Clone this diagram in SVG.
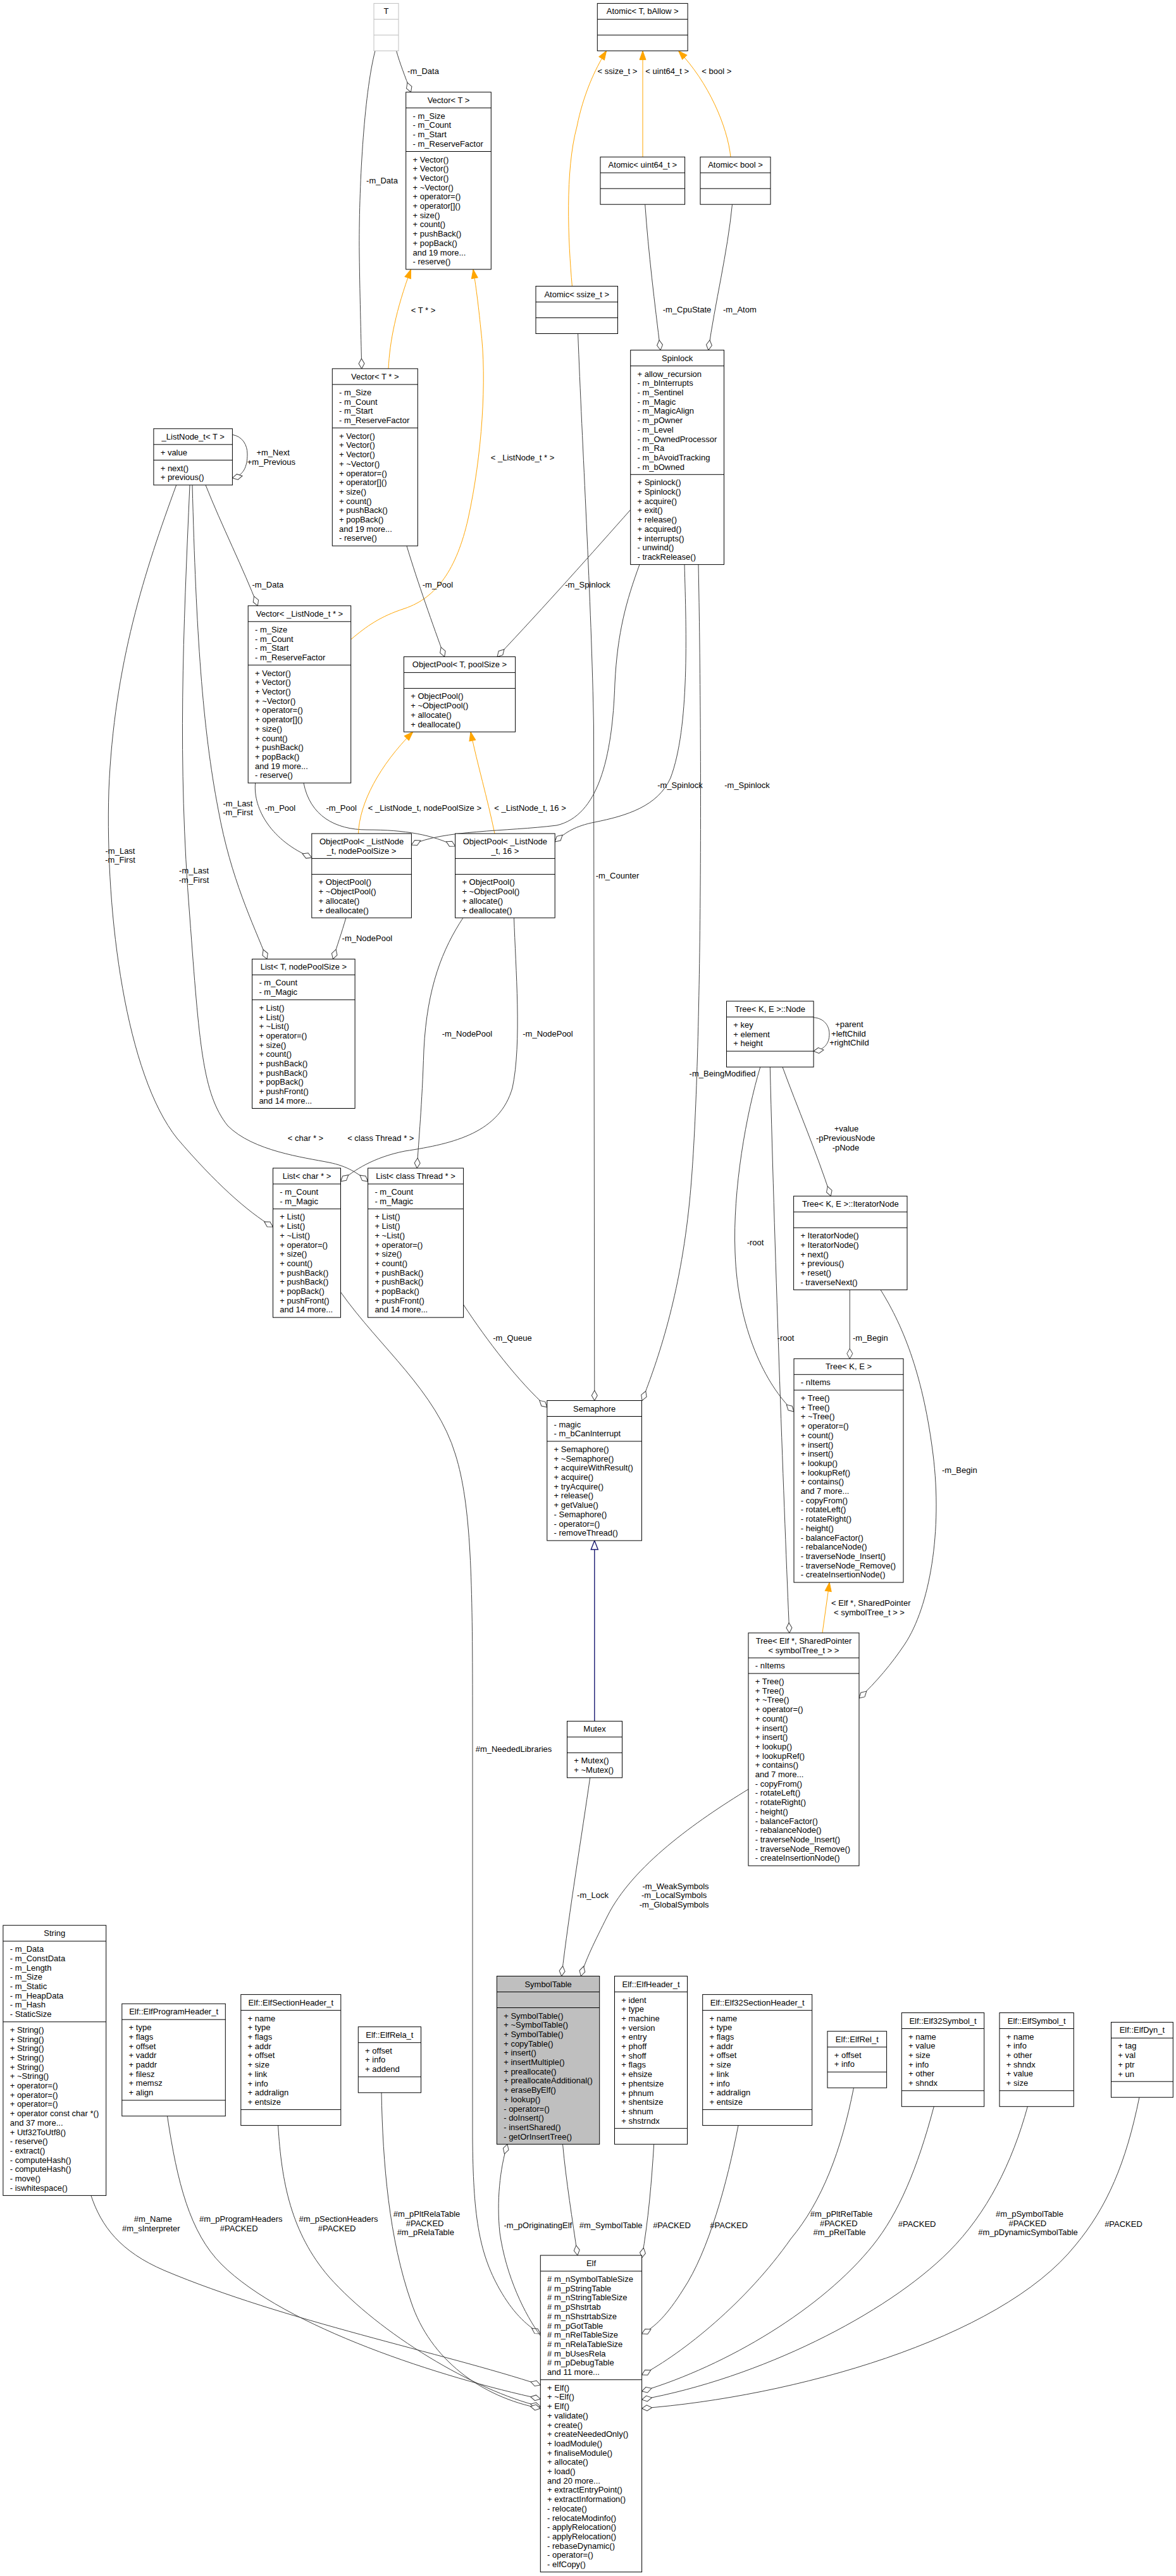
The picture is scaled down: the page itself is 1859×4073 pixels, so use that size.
<svg xmlns="http://www.w3.org/2000/svg" width="1859" height="4073" viewBox="0 0 1859 4073">
<style>
.b{fill:#fff;stroke:#000;stroke-width:1}
.g{fill:#bfbfbf;stroke:#000;stroke-width:1}
.u{fill:#fff;stroke:#bfbfbf;stroke-width:1}
.s{fill:none;stroke:#000;stroke-width:1}
.su{fill:none;stroke:#bfbfbf;stroke-width:1}
text{font-family:"Liberation Sans",Arial,Helvetica,sans-serif;font-size:13px;fill:#000}
.c{text-anchor:middle}
.e{fill:none;stroke:#404040;stroke-width:1;marker-end:url(#dia)}
.o{fill:none;stroke:#ffa500;stroke-width:1;marker-end:url(#oa)}
.m{fill:none;stroke:#191970;stroke-width:1.4;marker-end:url(#ba)}
</style>
<defs>
<marker id="dia" viewBox="-17 -6 18 12" refX="0" refY="0" markerWidth="18" markerHeight="12" orient="auto" markerUnits="userSpaceOnUse"><path d="M0,0 L-8,-4.5 L-16,0 L-8,4.5 Z" fill="#fff" stroke="#404040" stroke-width="1"/></marker>
<marker id="oa" viewBox="-15 -6 16 12" refX="0" refY="0" markerWidth="16" markerHeight="12" orient="auto" markerUnits="userSpaceOnUse"><path d="M0,0 L-14,-5 L-14,5 Z" fill="#ffa500" stroke="#ffa500" stroke-width="1"/></marker>
<marker id="ba" viewBox="-16 -7 17 14" refX="0" refY="0" markerWidth="17" markerHeight="14" orient="auto" markerUnits="userSpaceOnUse"><path d="M0,0 L-14,-5.5 L-14,5.5 Z" fill="#fff" stroke="#191970" stroke-width="1.4"/></marker>
</defs>
<rect x="0" y="0" width="1859" height="4073" fill="#fff"/>

<g id="edges">
<path class="e" d="M626.6,80.4 C632,100 640,120 649.5,145.7"/>
<path class="e" d="M593,80.4 C575,150 567,300 568,400 C569,480 571,540 571.7,582.9"/>
<path class="o" d="M614,582.9 C616,540 626,490 649.5,426"/>
<path class="o" d="M554.7,1011 C580,990 600,975 640,962 C690,945 722,900 740,820 C762,720 770,600 760,520 C756,480 752,450 748,426"/>
<path class="e" d="M325,766.9 C350,830 385,900 407.3,957.8"/>
<path class="e" d="M642.9,863.1 C660,920 685,990 702.6,1038.4"/>
<path class="e" d="M996.7,806 C940,870 860,960 786,1038.4"/>
<path class="e" d="M403.6,1238 C400,1280 430,1330 492.8,1356"/>
<path class="e" d="M480,1238 C490,1290 530,1312 580,1312 C640,1312 685,1320 719.6,1338"/>
<path class="o" d="M566.5,1318 C568,1270 600,1210 652.7,1157.2"/>
<path class="o" d="M782,1318 C770,1260 755,1210 744,1157.2"/>
<path class="e" d="M1011,892.6 C990,950 976,1000 972,1080 C968,1200 945,1290 880,1305 C800,1315 700,1312 650.4,1336"/>
<path class="e" d="M1082,892.6 C1085,1000 1090,1150 1060,1230 C1040,1275 990,1290 940,1300 C910,1306 895,1315 877.2,1331"/>
<path class="e" d="M913.6,527.5 C920,700 935,950 938.5,1150 L939.8,2214.5"/>
<path class="e" d="M1104,892.6 C1110,1200 1110,1700 1090,1900 C1075,2050 1040,2150 1015,2214.5"/>
<path class="e" d="M1019.7,323.2 C1025,400 1035,480 1044,553.6"/>
<path class="e" d="M1157.5,323.2 C1150,400 1130,480 1119.8,553.6"/>
<path class="o" d="M1016,248.2 L1016,80.4"/>
<path class="o" d="M1155,248.2 C1150,200 1120,130 1072.5,80.4"/>
<path class="o" d="M904.4,452.5 C898,380 893,270 912,200 C922,150 940,110 958.6,80.4"/>
<path class="e" d="M304,766.9 C310,1000 320,1150 345,1280 C365,1390 400,1460 422,1516.4"/>
<path class="e" d="M300,766.9 C290,1000 280,1200 300,1450 C315,1650 320,1730 360,1780 C400,1820 480,1830 520,1838 C550,1844 565,1855 581.6,1868"/>
<path class="e" d="M278.7,766.9 C230,900 180,1050 172,1250 C166,1450 200,1700 280,1800 C340,1870 390,1915 431.5,1940"/>
<path class="e" d="M546.9,1451.2 C540,1475 533,1495 526.3,1516.4"/>
<path class="e" d="M732,1451.2 C700,1500 675,1560 670,1660 C667,1750 662,1800 659.2,1847"/>
<path class="e" d="M812.5,1451.2 C815,1530 825,1650 810,1720 C790,1790 720,1808 640,1820 C590,1830 560,1850 538.5,1868"/>
<path class="e" d="M538.5,2043 C600,2130 690,2200 720,2300 C745,2380 747,2500 747,2700 L747,3380 C748,3500 756,3560 790,3620 C810,3655 830,3675 854.3,3690"/>
<path class="e" d="M732.7,2063 C770,2120 820,2185 864.8,2225"/>
<path class="e" d="M1201.8,1687.1 C1180,1760 1158,1880 1162,1980 C1166,2100 1210,2190 1255,2232"/>
<path class="e" d="M1217.3,1687.1 C1225,2000 1240,2400 1247.8,2581.9"/>
<path class="e" d="M1237,1687.1 C1260,1750 1290,1820 1313.3,1891.2"/>
<path class="e" d="M1286.1,1608.8 C1303,1610 1311,1622 1311,1635 C1311,1650 1303,1660 1286.1,1662"/>
<path class="e" d="M367.4,687.3 C383,690 391,703 391,718 C391,738 385,752 367.4,755.7"/>
<path class="e" d="M1343.3,2039.4 L1343.3,2148.3"/>
<path class="e" d="M1392,2039.4 C1430,2100 1460,2180 1475,2300 C1490,2420 1470,2540 1430,2600 C1410,2630 1385,2660 1358,2685"/>
<path class="o" d="M1300,2581.9 L1311.2,2502"/>
<path class="m" d="M939.8,2721.4 L939.8,2436"/>
<path class="e" d="M932.7,2810.8 C920,2900 900,3020 887.7,3124.5"/>
<path class="e" d="M1183,2829 C1100,2880 1000,2950 960,3030 C940,3070 925,3100 918.3,3124.5"/>
<path class="e" d="M854.3,3693 C830,3660 800,3600 790,3530 C785,3480 790,3430 802,3390.3"/>
<path class="e" d="M889.5,3390.3 C895,3450 905,3510 912.9,3566"/>
<path class="e" d="M1033.7,3390.3 C1030,3450 1025,3510 1014.6,3570"/>
<path class="e" d="M1167,3360.6 C1150,3450 1120,3560 1080,3620 C1055,3660 1035,3680 1014.6,3690"/>
<path class="e" d="M143.9,3471.4 C160,3520 190,3560 260,3590 C450,3670 700,3720 854.3,3771"/>
<path class="e" d="M264.5,3345.8 C280,3450 300,3530 350,3580 C450,3680 700,3760 854.3,3793"/>
<path class="e" d="M439.6,3360.6 C445,3450 460,3530 520,3600 C600,3690 750,3780 854.3,3805"/>
<path class="e" d="M603,3308.8 C605,3420 615,3540 650,3640 C680,3730 760,3790 854.3,3808"/>
<path class="e" d="M1349.5,3301.1 C1330,3400 1300,3480 1250,3540 C1180,3640 1080,3720 1014.6,3755"/>
<path class="e" d="M1476.3,3330.7 C1450,3430 1420,3500 1380,3550 C1300,3650 1150,3740 1014.6,3781"/>
<path class="e" d="M1624.4,3330.7 C1600,3420 1560,3500 1500,3560 C1400,3660 1200,3760 1014.6,3794"/>
<path class="e" d="M1801,3316.2 C1780,3420 1750,3490 1700,3550 C1580,3700 1250,3790 1014.6,3808"/>
</g>

<g id="edge-labels">
<text class="c" x="669" y="117">-m_Data</text>
<text class="c" x="604" y="290">-m_Data</text>
<text class="c" x="669" y="494.5">&lt; T * &gt;</text>
<text class="c" x="826" y="727.5">&lt; _ListNode_t * &gt;</text>
<text class="c" x="976" y="117.3">&lt; ssize_t &gt;</text>
<text class="c" x="1054.7" y="117.3">&lt; uint64_t &gt;</text>
<text class="c" x="1132.8" y="117.3">&lt; bool &gt;</text>
<text class="c" x="1086" y="493.7">-m_CpuState</text>
<text class="c" x="1169.4" y="493.7">-m_Atom</text>
<text class="c" x="431.6" y="720.3">+m_Next</text>
<text class="c" x="428.9" y="735.3">+m_Previous</text>
<text class="c" x="423.4" y="929">-m_Data</text>
<text class="c" x="692" y="929">-m_Pool</text>
<text class="c" x="929" y="928.5">-m_Spinlock</text>
<text class="c" x="1075" y="1245.5">-m_Spinlock</text>
<text class="c" x="1181" y="1245.5">-m_Spinlock</text>
<text class="c" x="976" y="1389.3">-m_Counter</text>
<text class="c" x="376" y="1274.5">-m_Last</text>
<text class="c" x="376" y="1289.3">-m_First</text>
<text class="c" x="443" y="1282">-m_Pool</text>
<text class="c" x="539.7" y="1282">-m_Pool</text>
<text class="c" x="671.4" y="1282">&lt; _ListNode_t, nodePoolSize &gt;</text>
<text class="c" x="838" y="1282">&lt; _ListNode_t, 16 &gt;</text>
<text class="c" x="306.6" y="1381">-m_Last</text>
<text class="c" x="306.6" y="1396">-m_First</text>
<text class="c" x="190" y="1349.5">-m_Last</text>
<text class="c" x="190" y="1364.3">-m_First</text>
<text class="c" x="580.3" y="1488">-m_NodePool</text>
<text class="c" x="738.4" y="1638.8">-m_NodePool</text>
<text class="c" x="866" y="1638.8">-m_NodePool</text>
<text class="c" x="483" y="1804">&lt; char * &gt;</text>
<text class="c" x="601.8" y="1804">&lt; class Thread * &gt;</text>
<text class="c" x="1142" y="1702">-m_BeingModified</text>
<text class="c" x="809.9" y="2120.2">-m_Queue</text>
<text class="c" x="1342.4" y="1624.2">+parent</text>
<text class="c" x="1341.4" y="1638.5">+leftChild</text>
<text class="c" x="1342.4" y="1652.9">+rightChild</text>
<text class="c" x="1338" y="1788.9">+value</text>
<text class="c" x="1336.5" y="1803.9">-pPreviousNode</text>
<text class="c" x="1337" y="1818.8">-pNode</text>
<text class="c" x="1194" y="1969.2">-root</text>
<text class="c" x="1242" y="2120.1">-root</text>
<text class="c" x="1375.8" y="2120.1">-m_Begin</text>
<text class="c" x="1516.8" y="2329.1">-m_Begin</text>
<text class="c" x="1376.8" y="2538.7">&lt; Elf *, SharedPointer</text>
<text class="c" x="1374" y="2553.5">&lt; symbolTree_t &gt; &gt;</text>
<text class="c" x="812" y="2769.5">#m_NeededLibraries</text>
<text class="c" x="937" y="3000.8">-m_Lock</text>
<text class="c" x="1068" y="2986.5">-m_WeakSymbols</text>
<text class="c" x="1065.7" y="3000.8">-m_LocalSymbols</text>
<text class="c" x="1065.7" y="3015.7">-m_GlobalSymbols</text>
<text class="c" x="241.8" y="3512.5">#m_Name</text>
<text class="c" x="238.8" y="3527.5">#m_sInterpreter</text>
<text class="c" x="380.8" y="3512.5">#m_pProgramHeaders</text>
<text class="c" x="377.7" y="3527.5">#PACKED</text>
<text class="c" x="535" y="3512.5">#m_pSectionHeaders</text>
<text class="c" x="532.6" y="3527.5">#PACKED</text>
<text class="c" x="674.6" y="3505.3">#m_pPltRelaTable</text>
<text class="c" x="671.6" y="3520.2">#PACKED</text>
<text class="c" x="672.8" y="3534.2">#m_pRelaTable</text>
<text class="c" x="850.3" y="3522.8">-m_pOriginatingElf</text>
<text class="c" x="965.7" y="3522.8">#m_SymbolTable</text>
<text class="c" x="1062" y="3522.8">#PACKED</text>
<text class="c" x="1152.2" y="3522.8">#PACKED</text>
<text class="c" x="1330" y="3505.3">#m_pPltRelTable</text>
<text class="c" x="1325.8" y="3520.2">#PACKED</text>
<text class="c" x="1327" y="3534.2">#m_pRelTable</text>
<text class="c" x="1449.6" y="3520.9">#PACKED</text>
<text class="c" x="1627.4" y="3505.3">#m_pSymbolTable</text>
<text class="c" x="1624.4" y="3520.2">#PACKED</text>
<text class="c" x="1625" y="3534.2">#m_pDynamicSymbolTable</text>
<text class="c" x="1776" y="3520.9">#PACKED</text>
</g>

<g id="T">
<rect class="u" x="591" y="5.4" width="39" height="75"/>
<path class="su" d="M591,30.4h39M591,55.4h39"/>
<text class="c" x="610.5" y="22.4">T</text>
</g>

<g id="Vector_T">
<rect class="b" x="641.7" y="145.7" width="134.6" height="280.2"/>
<path class="s" d="M641.7,170.7h134.6M641.7,239.5h134.6"/>
<text class="c" x="709" y="162.7">Vector&lt; T &gt;</text>
<text x="652.5" y="187.7">- m_Size<tspan x="652.5" dy="14.7">- m_Count</tspan><tspan x="652.5" dy="14.7">- m_Start</tspan><tspan x="652.5" dy="14.7">- m_ReserveFactor</tspan></text>
<text x="652.5" y="256.5">+ Vector()<tspan x="652.5" dy="14.7">+ Vector()</tspan><tspan x="652.5" dy="14.7">+ Vector()</tspan><tspan x="652.5" dy="14.7">+ ~Vector()</tspan><tspan x="652.5" dy="14.7">+ operator=()</tspan><tspan x="652.5" dy="14.7">+ operator[]()</tspan><tspan x="652.5" dy="14.7">+ size()</tspan><tspan x="652.5" dy="14.7">+ count()</tspan><tspan x="652.5" dy="14.7">+ pushBack()</tspan><tspan x="652.5" dy="14.7">+ popBack()</tspan><tspan x="652.5" dy="14.7">and 19 more...</tspan><tspan x="652.5" dy="14.7">- reserve()</tspan></text>
</g>

<g id="Vector_Tptr">
<rect class="b" x="525.3" y="582.9" width="135" height="280.2"/>
<path class="s" d="M525.3,607.9h135M525.3,676.7h135"/>
<text class="c" x="592.8" y="599.9">Vector&lt; T * &gt;</text>
<text x="536" y="624.9">- m_Size<tspan x="536" dy="14.7">- m_Count</tspan><tspan x="536" dy="14.7">- m_Start</tspan><tspan x="536" dy="14.7">- m_ReserveFactor</tspan></text>
<text x="536" y="693.7">+ Vector()<tspan x="536" dy="14.7">+ Vector()</tspan><tspan x="536" dy="14.7">+ Vector()</tspan><tspan x="536" dy="14.7">+ ~Vector()</tspan><tspan x="536" dy="14.7">+ operator=()</tspan><tspan x="536" dy="14.7">+ operator[]()</tspan><tspan x="536" dy="14.7">+ size()</tspan><tspan x="536" dy="14.7">+ count()</tspan><tspan x="536" dy="14.7">+ pushBack()</tspan><tspan x="536" dy="14.7">+ popBack()</tspan><tspan x="536" dy="14.7">and 19 more...</tspan><tspan x="536" dy="14.7">- reserve()</tspan></text>
</g>

<g id="Vector_ListNodePtr">
<rect class="b" x="392.2" y="957.8" width="162.5" height="280.2"/>
<path class="s" d="M392.2,982.8h162.5M392.2,1051.6h162.5"/>
<text class="c" x="473.5" y="974.8">Vector&lt; _ListNode_t * &gt;</text>
<text x="403" y="999.8">- m_Size<tspan x="403" dy="14.7">- m_Count</tspan><tspan x="403" dy="14.7">- m_Start</tspan><tspan x="403" dy="14.7">- m_ReserveFactor</tspan></text>
<text x="403" y="1068.6">+ Vector()<tspan x="403" dy="14.7">+ Vector()</tspan><tspan x="403" dy="14.7">+ Vector()</tspan><tspan x="403" dy="14.7">+ ~Vector()</tspan><tspan x="403" dy="14.7">+ operator=()</tspan><tspan x="403" dy="14.7">+ operator[]()</tspan><tspan x="403" dy="14.7">+ size()</tspan><tspan x="403" dy="14.7">+ count()</tspan><tspan x="403" dy="14.7">+ pushBack()</tspan><tspan x="403" dy="14.7">+ popBack()</tspan><tspan x="403" dy="14.7">and 19 more...</tspan><tspan x="403" dy="14.7">- reserve()</tspan></text>
</g>

<g id="Atomic_T_bAllow">
<rect class="b" x="944.3" y="5.4" width="142.8" height="75"/>
<path class="s" d="M944.3,30.4h142.8M944.3,55.4h142.8"/>
<text class="c" x="1015.7" y="22.4">Atomic&lt; T, bAllow &gt;</text>
</g>

<g id="Atomic_uint64">
<rect class="b" x="949" y="248.2" width="133.6" height="75"/>
<path class="s" d="M949,273.2h133.6M949,298.2h133.6"/>
<text class="c" x="1015.8" y="265.2">Atomic&lt; uint64_t &gt;</text>
</g>

<g id="Atomic_bool">
<rect class="b" x="1107" y="248.2" width="111" height="75"/>
<path class="s" d="M1107,273.2h111M1107,298.2h111"/>
<text class="c" x="1162.5" y="265.2">Atomic&lt; bool &gt;</text>
</g>

<g id="Atomic_ssize">
<rect class="b" x="847" y="452.5" width="129.5" height="75"/>
<path class="s" d="M847,477.5h129.5M847,502.5h129.5"/>
<text class="c" x="911.75" y="469.5">Atomic&lt; ssize_t &gt;</text>
</g>

<g id="Spinlock">
<rect class="b" x="996.7" y="553.6" width="147.8" height="339"/>
<path class="s" d="M996.7,578.6h147.8M996.7,750.3h147.8"/>
<text class="c" x="1070.6" y="570.6">Spinlock</text>
<text x="1007.5" y="595.6">+ allow_recursion<tspan x="1007.5" dy="14.7">- m_bInterrupts</tspan><tspan x="1007.5" dy="14.7">- m_Sentinel</tspan><tspan x="1007.5" dy="14.7">- m_Magic</tspan><tspan x="1007.5" dy="14.7">- m_MagicAlign</tspan><tspan x="1007.5" dy="14.7">- m_pOwner</tspan><tspan x="1007.5" dy="14.7">- m_Level</tspan><tspan x="1007.5" dy="14.7">- m_OwnedProcessor</tspan><tspan x="1007.5" dy="14.7">- m_Ra</tspan><tspan x="1007.5" dy="14.7">- m_bAvoidTracking</tspan><tspan x="1007.5" dy="14.7">- m_bOwned</tspan></text>
<text x="1007.5" y="767.3">+ Spinlock()<tspan x="1007.5" dy="14.7">+ Spinlock()</tspan><tspan x="1007.5" dy="14.7">+ acquire()</tspan><tspan x="1007.5" dy="14.7">+ exit()</tspan><tspan x="1007.5" dy="14.7">+ release()</tspan><tspan x="1007.5" dy="14.7">+ acquired()</tspan><tspan x="1007.5" dy="14.7">+ interrupts()</tspan><tspan x="1007.5" dy="14.7">- unwind()</tspan><tspan x="1007.5" dy="14.7">- trackRelease()</tspan></text>
</g>

<g id="ListNode_t">
<rect class="b" x="242.9" y="677.8" width="124.5" height="89.1"/>
<path class="s" d="M242.9,702.8h124.5M242.9,727.5h124.5"/>
<text class="c" x="305.2" y="694.8">_ListNode_t&lt; T &gt;</text>
<text x="253.7" y="719.8">+ value</text>
<text x="253.7" y="744.5">+ next()<tspan x="253.7" dy="14.7">+ previous()</tspan></text>
</g>

<g id="ObjectPool_T_poolSize">
<rect class="b" x="638.4" y="1038.4" width="176.2" height="118.8"/>
<path class="s" d="M638.4,1063.4h176.2M638.4,1088.4h176.2"/>
<text class="c" x="726.5" y="1055.4">ObjectPool&lt; T, poolSize &gt;</text>
<text x="649.2" y="1105.4">+ ObjectPool()<tspan x="649.2" dy="14.7">+ ~ObjectPool()</tspan><tspan x="649.2" dy="14.7">+ allocate()</tspan><tspan x="649.2" dy="14.7">+ deallocate()</tspan></text>
</g>

<g id="ObjectPool_nodePoolSize">
<rect class="b" x="492.8" y="1318" width="157.6" height="133.2"/>
<path class="s" d="M492.8,1357.4h157.6M492.8,1382.4h157.6"/>
<text class="c" x="571.6" y="1334.9">ObjectPool&lt; _ListNode<tspan x="571.6" dy="14.7">_t, nodePoolSize &gt;</tspan></text>
<text x="503.6" y="1399.4">+ ObjectPool()<tspan x="503.6" dy="14.7">+ ~ObjectPool()</tspan><tspan x="503.6" dy="14.7">+ allocate()</tspan><tspan x="503.6" dy="14.7">+ deallocate()</tspan></text>
</g>

<g id="ObjectPool_16">
<rect class="b" x="719.6" y="1318" width="157.6" height="133.2"/>
<path class="s" d="M719.6,1357.4h157.6M719.6,1382.4h157.6"/>
<text class="c" x="798.4" y="1334.9">ObjectPool&lt; _ListNode<tspan x="798.4" dy="14.7">_t, 16 &gt;</tspan></text>
<text x="730.4" y="1399.4">+ ObjectPool()<tspan x="730.4" dy="14.7">+ ~ObjectPool()</tspan><tspan x="730.4" dy="14.7">+ allocate()</tspan><tspan x="730.4" dy="14.7">+ deallocate()</tspan></text>
</g>

<g id="List_T_nodePoolSize">
<rect class="b" x="398.6" y="1516.4" width="162.5" height="236.1"/>
<path class="s" d="M398.6,1541.4h162.5M398.6,1580.8h162.5"/>
<text class="c" x="479.9" y="1533.4">List&lt; T, nodePoolSize &gt;</text>
<text x="409.4" y="1558.4">- m_Count<tspan x="409.4" dy="14.7">- m_Magic</tspan></text>
<text x="409.4" y="1597.8">+ List()<tspan x="409.4" dy="14.7">+ List()</tspan><tspan x="409.4" dy="14.7">+ ~List()</tspan><tspan x="409.4" dy="14.7">+ operator=()</tspan><tspan x="409.4" dy="14.7">+ size()</tspan><tspan x="409.4" dy="14.7">+ count()</tspan><tspan x="409.4" dy="14.7">+ pushBack()</tspan><tspan x="409.4" dy="14.7">+ pushBack()</tspan><tspan x="409.4" dy="14.7">+ popBack()</tspan><tspan x="409.4" dy="14.7">+ pushFront()</tspan><tspan x="409.4" dy="14.7">and 14 more...</tspan></text>
</g>

<g id="List_char">
<rect class="b" x="431.5" y="1847" width="107" height="236.1"/>
<path class="s" d="M431.5,1872h107M431.5,1911.4h107"/>
<text class="c" x="485" y="1864">List&lt; char * &gt;</text>
<text x="442.3" y="1889">- m_Count<tspan x="442.3" dy="14.7">- m_Magic</tspan></text>
<text x="442.3" y="1928.4">+ List()<tspan x="442.3" dy="14.7">+ List()</tspan><tspan x="442.3" dy="14.7">+ ~List()</tspan><tspan x="442.3" dy="14.7">+ operator=()</tspan><tspan x="442.3" dy="14.7">+ size()</tspan><tspan x="442.3" dy="14.7">+ count()</tspan><tspan x="442.3" dy="14.7">+ pushBack()</tspan><tspan x="442.3" dy="14.7">+ pushBack()</tspan><tspan x="442.3" dy="14.7">+ popBack()</tspan><tspan x="442.3" dy="14.7">+ pushFront()</tspan><tspan x="442.3" dy="14.7">and 14 more...</tspan></text>
</g>

<g id="List_Thread">
<rect class="b" x="581.6" y="1847" width="151" height="236.1"/>
<path class="s" d="M581.6,1872h151M581.6,1911.4h151"/>
<text class="c" x="657.1" y="1864">List&lt; class Thread * &gt;</text>
<text x="592.4" y="1889">- m_Count<tspan x="592.4" dy="14.7">- m_Magic</tspan></text>
<text x="592.4" y="1928.4">+ List()<tspan x="592.4" dy="14.7">+ List()</tspan><tspan x="592.4" dy="14.7">+ ~List()</tspan><tspan x="592.4" dy="14.7">+ operator=()</tspan><tspan x="592.4" dy="14.7">+ size()</tspan><tspan x="592.4" dy="14.7">+ count()</tspan><tspan x="592.4" dy="14.7">+ pushBack()</tspan><tspan x="592.4" dy="14.7">+ pushBack()</tspan><tspan x="592.4" dy="14.7">+ popBack()</tspan><tspan x="592.4" dy="14.7">+ pushFront()</tspan><tspan x="592.4" dy="14.7">and 14 more...</tspan></text>
</g>

<g id="Tree_Node">
<rect class="b" x="1148.5" y="1583" width="137.6" height="104.1"/>
<path class="s" d="M1148.5,1608h137.6M1148.5,1662.1h137.6"/>
<text class="c" x="1217.3" y="1600">Tree&lt; K, E &gt;::Node</text>
<text x="1159.3" y="1625">+ key<tspan x="1159.3" dy="14.7">+ element</tspan><tspan x="1159.3" dy="14.7">+ height</tspan></text>
</g>

<g id="Tree_IteratorNode">
<rect class="b" x="1254.6" y="1891.2" width="179.4" height="148.2"/>
<path class="s" d="M1254.6,1916.2h179.4M1254.6,1941.2h179.4"/>
<text class="c" x="1344.3" y="1908.2">Tree&lt; K, E &gt;::IteratorNode</text>
<text x="1265.4" y="1958.2">+ IteratorNode()<tspan x="1265.4" dy="14.7">+ IteratorNode()</tspan><tspan x="1265.4" dy="14.7">+ next()</tspan><tspan x="1265.4" dy="14.7">+ previous()</tspan><tspan x="1265.4" dy="14.7">+ reset()</tspan><tspan x="1265.4" dy="14.7">- traverseNext()</tspan></text>
</g>

<g id="Tree_K_E">
<rect class="b" x="1255" y="2148.3" width="173" height="353.7"/>
<path class="s" d="M1255,2173.3h173M1255,2198h173"/>
<text class="c" x="1341.5" y="2165.3">Tree&lt; K, E &gt;</text>
<text x="1265.8" y="2190.3">- nItems</text>
<text x="1265.8" y="2215">+ Tree()<tspan x="1265.8" dy="14.7">+ Tree()</tspan><tspan x="1265.8" dy="14.7">+ ~Tree()</tspan><tspan x="1265.8" dy="14.7">+ operator=()</tspan><tspan x="1265.8" dy="14.7">+ count()</tspan><tspan x="1265.8" dy="14.7">+ insert()</tspan><tspan x="1265.8" dy="14.7">+ insert()</tspan><tspan x="1265.8" dy="14.7">+ lookup()</tspan><tspan x="1265.8" dy="14.7">+ lookupRef()</tspan><tspan x="1265.8" dy="14.7">+ contains()</tspan><tspan x="1265.8" dy="14.7">and 7 more...</tspan><tspan x="1265.8" dy="14.7">- copyFrom()</tspan><tspan x="1265.8" dy="14.7">- rotateLeft()</tspan><tspan x="1265.8" dy="14.7">- rotateRight()</tspan><tspan x="1265.8" dy="14.7">- height()</tspan><tspan x="1265.8" dy="14.7">- balanceFactor()</tspan><tspan x="1265.8" dy="14.7">- rebalanceNode()</tspan><tspan x="1265.8" dy="14.7">- traverseNode_Insert()</tspan><tspan x="1265.8" dy="14.7">- traverseNode_Remove()</tspan><tspan x="1265.8" dy="14.7">- createInsertionNode()</tspan></text>
</g>

<g id="Semaphore">
<rect class="b" x="864.8" y="2214.5" width="149.6" height="221.4"/>
<path class="s" d="M864.8,2239.5h149.6M864.8,2278.9h149.6"/>
<text class="c" x="939.6" y="2231.5">Semaphore</text>
<text x="875.6" y="2256.5">- magic<tspan x="875.6" dy="14.7">- m_bCanInterrupt</tspan></text>
<text x="875.6" y="2295.9">+ Semaphore()<tspan x="875.6" dy="14.7">+ ~Semaphore()</tspan><tspan x="875.6" dy="14.7">+ acquireWithResult()</tspan><tspan x="875.6" dy="14.7">+ acquire()</tspan><tspan x="875.6" dy="14.7">+ tryAcquire()</tspan><tspan x="875.6" dy="14.7">+ release()</tspan><tspan x="875.6" dy="14.7">+ getValue()</tspan><tspan x="875.6" dy="14.7">- Semaphore()</tspan><tspan x="875.6" dy="14.7">- operator=()</tspan><tspan x="875.6" dy="14.7">- removeThread()</tspan></text>
</g>

<g id="Tree_Elf_SharedPointer">
<rect class="b" x="1183" y="2581.9" width="175" height="368.1"/>
<path class="s" d="M1183,2621.3h175M1183,2646h175"/>
<text class="c" x="1270.5" y="2598.8">Tree&lt; Elf *, SharedPointer<tspan x="1270.5" dy="14.7">&lt; symbolTree_t &gt; &gt;</tspan></text>
<text x="1193.8" y="2638.3">- nItems</text>
<text x="1193.8" y="2663">+ Tree()<tspan x="1193.8" dy="14.7">+ Tree()</tspan><tspan x="1193.8" dy="14.7">+ ~Tree()</tspan><tspan x="1193.8" dy="14.7">+ operator=()</tspan><tspan x="1193.8" dy="14.7">+ count()</tspan><tspan x="1193.8" dy="14.7">+ insert()</tspan><tspan x="1193.8" dy="14.7">+ insert()</tspan><tspan x="1193.8" dy="14.7">+ lookup()</tspan><tspan x="1193.8" dy="14.7">+ lookupRef()</tspan><tspan x="1193.8" dy="14.7">+ contains()</tspan><tspan x="1193.8" dy="14.7">and 7 more...</tspan><tspan x="1193.8" dy="14.7">- copyFrom()</tspan><tspan x="1193.8" dy="14.7">- rotateLeft()</tspan><tspan x="1193.8" dy="14.7">- rotateRight()</tspan><tspan x="1193.8" dy="14.7">- height()</tspan><tspan x="1193.8" dy="14.7">- balanceFactor()</tspan><tspan x="1193.8" dy="14.7">- rebalanceNode()</tspan><tspan x="1193.8" dy="14.7">- traverseNode_Insert()</tspan><tspan x="1193.8" dy="14.7">- traverseNode_Remove()</tspan><tspan x="1193.8" dy="14.7">- createInsertionNode()</tspan></text>
</g>

<g id="Mutex">
<rect class="b" x="896.5" y="2721.4" width="87" height="89.4"/>
<path class="s" d="M896.5,2746.4h87M896.5,2771.4h87"/>
<text class="c" x="940" y="2738.4">Mutex</text>
<text x="907.3" y="2788.4">+ Mutex()<tspan x="907.3" dy="14.7">+ ~Mutex()</tspan></text>
</g>

<g id="String">
<rect class="b" x="4.9" y="3044.2" width="162.8" height="427.2"/>
<path class="s" d="M4.9,3069.2h162.8M4.9,3196.8h162.8"/>
<text class="c" x="86.3" y="3061.2">String</text>
<text x="15.7" y="3086.2">- m_Data<tspan x="15.7" dy="14.7">- m_ConstData</tspan><tspan x="15.7" dy="14.7">- m_Length</tspan><tspan x="15.7" dy="14.7">- m_Size</tspan><tspan x="15.7" dy="14.7">- m_Static</tspan><tspan x="15.7" dy="14.7">- m_HeapData</tspan><tspan x="15.7" dy="14.7">- m_Hash</tspan><tspan x="15.7" dy="14.7">- StaticSize</tspan></text>
<text x="15.7" y="3213.8">+ String()<tspan x="15.7" dy="14.7">+ String()</tspan><tspan x="15.7" dy="14.7">+ String()</tspan><tspan x="15.7" dy="14.7">+ String()</tspan><tspan x="15.7" dy="14.7">+ String()</tspan><tspan x="15.7" dy="14.7">+ ~String()</tspan><tspan x="15.7" dy="14.7">+ operator=()</tspan><tspan x="15.7" dy="14.7">+ operator=()</tspan><tspan x="15.7" dy="14.7">+ operator=()</tspan><tspan x="15.7" dy="14.7">+ operator const char *()</tspan><tspan x="15.7" dy="14.7">and 37 more...</tspan><tspan x="15.7" dy="14.7">+ Utf32ToUtf8()</tspan><tspan x="15.7" dy="14.7">- reserve()</tspan><tspan x="15.7" dy="14.7">- extract()</tspan><tspan x="15.7" dy="14.7">- computeHash()</tspan><tspan x="15.7" dy="14.7">- computeHash()</tspan><tspan x="15.7" dy="14.7">- move()</tspan><tspan x="15.7" dy="14.7">- iswhitespace()</tspan></text>
</g>

<g id="ElfProgramHeader_t">
<rect class="b" x="192.8" y="3168.2" width="163.5" height="177.6"/>
<path class="s" d="M192.8,3193.2h163.5M192.8,3320.8h163.5"/>
<text class="c" x="274.6" y="3185.2">Elf::ElfProgramHeader_t</text>
<text x="203.6" y="3210.2">+ type<tspan x="203.6" dy="14.7">+ flags</tspan><tspan x="203.6" dy="14.7">+ offset</tspan><tspan x="203.6" dy="14.7">+ vaddr</tspan><tspan x="203.6" dy="14.7">+ paddr</tspan><tspan x="203.6" dy="14.7">+ filesz</tspan><tspan x="203.6" dy="14.7">+ memsz</tspan><tspan x="203.6" dy="14.7">+ align</tspan></text>
</g>

<g id="ElfSectionHeader_t">
<rect class="b" x="380.8" y="3153.6" width="158" height="207"/>
<path class="s" d="M380.8,3178.6h158M380.8,3335.6h158"/>
<text class="c" x="459.8" y="3170.6">Elf::ElfSectionHeader_t</text>
<text x="391.6" y="3195.6">+ name<tspan x="391.6" dy="14.7">+ type</tspan><tspan x="391.6" dy="14.7">+ flags</tspan><tspan x="391.6" dy="14.7">+ addr</tspan><tspan x="391.6" dy="14.7">+ offset</tspan><tspan x="391.6" dy="14.7">+ size</tspan><tspan x="391.6" dy="14.7">+ link</tspan><tspan x="391.6" dy="14.7">+ info</tspan><tspan x="391.6" dy="14.7">+ addralign</tspan><tspan x="391.6" dy="14.7">+ entsize</tspan></text>
</g>

<g id="ElfRela_t">
<rect class="b" x="566.3" y="3204.7" width="99.2" height="104.1"/>
<path class="s" d="M566.3,3229.7h99.2M566.3,3283.8h99.2"/>
<text class="c" x="615.9" y="3221.7">Elf::ElfRela_t</text>
<text x="577.1" y="3246.7">+ offset<tspan x="577.1" dy="14.7">+ info</tspan><tspan x="577.1" dy="14.7">+ addend</tspan></text>
</g>

<g id="SymbolTable">
<rect class="g" x="785.4" y="3124.5" width="162.3" height="265.8"/>
<path class="s" d="M785.4,3149.5h162.3M785.4,3174.5h162.3"/>
<text class="c" x="866.6" y="3141.5">SymbolTable</text>
<text x="796.2" y="3191.5">+ SymbolTable()<tspan x="796.2" dy="14.7">+ ~SymbolTable()</tspan><tspan x="796.2" dy="14.7">+ SymbolTable()</tspan><tspan x="796.2" dy="14.7">+ copyTable()</tspan><tspan x="796.2" dy="14.7">+ insert()</tspan><tspan x="796.2" dy="14.7">+ insertMultiple()</tspan><tspan x="796.2" dy="14.7">+ preallocate()</tspan><tspan x="796.2" dy="14.7">+ preallocateAdditional()</tspan><tspan x="796.2" dy="14.7">+ eraseByElf()</tspan><tspan x="796.2" dy="14.7">+ lookup()</tspan><tspan x="796.2" dy="14.7">- operator=()</tspan><tspan x="796.2" dy="14.7">- doInsert()</tspan><tspan x="796.2" dy="14.7">- insertShared()</tspan><tspan x="796.2" dy="14.7">- getOrInsertTree()</tspan></text>
</g>

<g id="ElfHeader_t">
<rect class="b" x="971.5" y="3124.5" width="115" height="265.8"/>
<path class="s" d="M971.5,3149.5h115M971.5,3365.3h115"/>
<text class="c" x="1029" y="3141.5">Elf::ElfHeader_t</text>
<text x="982.3" y="3166.5">+ ident<tspan x="982.3" dy="14.7">+ type</tspan><tspan x="982.3" dy="14.7">+ machine</tspan><tspan x="982.3" dy="14.7">+ version</tspan><tspan x="982.3" dy="14.7">+ entry</tspan><tspan x="982.3" dy="14.7">+ phoff</tspan><tspan x="982.3" dy="14.7">+ shoff</tspan><tspan x="982.3" dy="14.7">+ flags</tspan><tspan x="982.3" dy="14.7">+ ehsize</tspan><tspan x="982.3" dy="14.7">+ phentsize</tspan><tspan x="982.3" dy="14.7">+ phnum</tspan><tspan x="982.3" dy="14.7">+ shentsize</tspan><tspan x="982.3" dy="14.7">+ shnum</tspan><tspan x="982.3" dy="14.7">+ shstrndx</tspan></text>
</g>

<g id="Elf32SectionHeader_t">
<rect class="b" x="1110.7" y="3153.6" width="173" height="207"/>
<path class="s" d="M1110.7,3178.6h173M1110.7,3335.6h173"/>
<text class="c" x="1197.2" y="3170.6">Elf::Elf32SectionHeader_t</text>
<text x="1121.5" y="3195.6">+ name<tspan x="1121.5" dy="14.7">+ type</tspan><tspan x="1121.5" dy="14.7">+ flags</tspan><tspan x="1121.5" dy="14.7">+ addr</tspan><tspan x="1121.5" dy="14.7">+ offset</tspan><tspan x="1121.5" dy="14.7">+ size</tspan><tspan x="1121.5" dy="14.7">+ link</tspan><tspan x="1121.5" dy="14.7">+ info</tspan><tspan x="1121.5" dy="14.7">+ addralign</tspan><tspan x="1121.5" dy="14.7">+ entsize</tspan></text>
</g>

<g id="ElfRel_t">
<rect class="b" x="1308" y="3211.7" width="93.6" height="89.4"/>
<path class="s" d="M1308,3236.7h93.6M1308,3276.1h93.6"/>
<text class="c" x="1354.8" y="3228.7">Elf::ElfRel_t</text>
<text x="1318.8" y="3253.7">+ offset<tspan x="1318.8" dy="14.7">+ info</tspan></text>
</g>

<g id="Elf32Symbol_t">
<rect class="b" x="1425.3" y="3182.5" width="130.4" height="148.2"/>
<path class="s" d="M1425.3,3207.5h130.4M1425.3,3305.7h130.4"/>
<text class="c" x="1490.5" y="3199.5">Elf::Elf32Symbol_t</text>
<text x="1436.1" y="3224.5">+ name<tspan x="1436.1" dy="14.7">+ value</tspan><tspan x="1436.1" dy="14.7">+ size</tspan><tspan x="1436.1" dy="14.7">+ info</tspan><tspan x="1436.1" dy="14.7">+ other</tspan><tspan x="1436.1" dy="14.7">+ shndx</tspan></text>
</g>

<g id="ElfSymbol_t">
<rect class="b" x="1580" y="3182.5" width="117.3" height="148.2"/>
<path class="s" d="M1580,3207.5h117.3M1580,3305.7h117.3"/>
<text class="c" x="1638.7" y="3199.5">Elf::ElfSymbol_t</text>
<text x="1590.8" y="3224.5">+ name<tspan x="1590.8" dy="14.7">+ info</tspan><tspan x="1590.8" dy="14.7">+ other</tspan><tspan x="1590.8" dy="14.7">+ shndx</tspan><tspan x="1590.8" dy="14.7">+ value</tspan><tspan x="1590.8" dy="14.7">+ size</tspan></text>
</g>

<g id="ElfDyn_t">
<rect class="b" x="1756.5" y="3197.4" width="97.8" height="118.8"/>
<path class="s" d="M1756.5,3222.4h97.8M1756.5,3291.2h97.8"/>
<text class="c" x="1805.4" y="3214.4">Elf::ElfDyn_t</text>
<text x="1767.3" y="3239.4">+ tag<tspan x="1767.3" dy="14.7">+ val</tspan><tspan x="1767.3" dy="14.7">+ ptr</tspan><tspan x="1767.3" dy="14.7">+ un</tspan></text>
</g>

<g id="Elf">
<rect class="b" x="854.3" y="3566" width="160.3" height="500.7"/>
<path class="s" d="M854.3,3591h160.3M854.3,3762.7h160.3"/>
<text class="c" x="934.5" y="3583">Elf</text>
<text x="865.1" y="3608"># m_nSymbolTableSize<tspan x="865.1" dy="14.7"># m_pStringTable</tspan><tspan x="865.1" dy="14.7"># m_nStringTableSize</tspan><tspan x="865.1" dy="14.7"># m_pShstrtab</tspan><tspan x="865.1" dy="14.7"># m_nShstrtabSize</tspan><tspan x="865.1" dy="14.7"># m_pGotTable</tspan><tspan x="865.1" dy="14.7"># m_nRelTableSize</tspan><tspan x="865.1" dy="14.7"># m_nRelaTableSize</tspan><tspan x="865.1" dy="14.7"># m_bUsesRela</tspan><tspan x="865.1" dy="14.7"># m_pDebugTable</tspan><tspan x="865.1" dy="14.7">and 11 more...</tspan></text>
<text x="865.1" y="3779.7">+ Elf()<tspan x="865.1" dy="14.7">+ ~Elf()</tspan><tspan x="865.1" dy="14.7">+ Elf()</tspan><tspan x="865.1" dy="14.7">+ validate()</tspan><tspan x="865.1" dy="14.7">+ create()</tspan><tspan x="865.1" dy="14.7">+ createNeededOnly()</tspan><tspan x="865.1" dy="14.7">+ loadModule()</tspan><tspan x="865.1" dy="14.7">+ finaliseModule()</tspan><tspan x="865.1" dy="14.7">+ allocate()</tspan><tspan x="865.1" dy="14.7">+ load()</tspan><tspan x="865.1" dy="14.7">and 20 more...</tspan><tspan x="865.1" dy="14.7">+ extractEntryPoint()</tspan><tspan x="865.1" dy="14.7">+ extractInformation()</tspan><tspan x="865.1" dy="14.7">- relocate()</tspan><tspan x="865.1" dy="14.7">- relocateModinfo()</tspan><tspan x="865.1" dy="14.7">- applyRelocation()</tspan><tspan x="865.1" dy="14.7">- applyRelocation()</tspan><tspan x="865.1" dy="14.7">- rebaseDynamic()</tspan><tspan x="865.1" dy="14.7">- operator=()</tspan><tspan x="865.1" dy="14.7">- elfCopy()</tspan></text>
</g>
</svg>
